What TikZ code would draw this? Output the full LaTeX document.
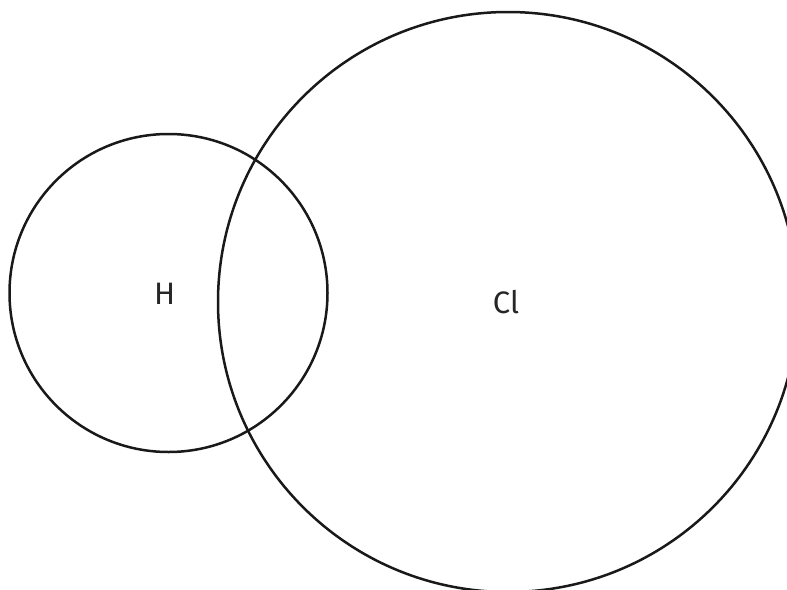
\documentclass[tikz,border=0pt]{standalone}
\usepackage{fontspec}
\setmainfont{Fira Sans}
\begin{document}
\begin{tikzpicture}[x=1pt,y=-1pt,
  atom/.style={draw=black!90,line width=2.5pt},
  lbl/.style={inner sep=0pt,font=\fontsize{31}{33}\selectfont,text=black!85}]
\useasboundingbox (0,0) rectangle (787,589);
\begin{scope}
\clip (0,0) rectangle (787,589);
\draw[atom] (168.5,293) circle[radius=159];
\draw[atom] (508,302) circle[radius=290];
\end{scope}
\node[lbl] (h) at (164.7,294) {H};
\node[lbl] (cl) at (506,302) {Cl};
\end{tikzpicture}
\end{document}
